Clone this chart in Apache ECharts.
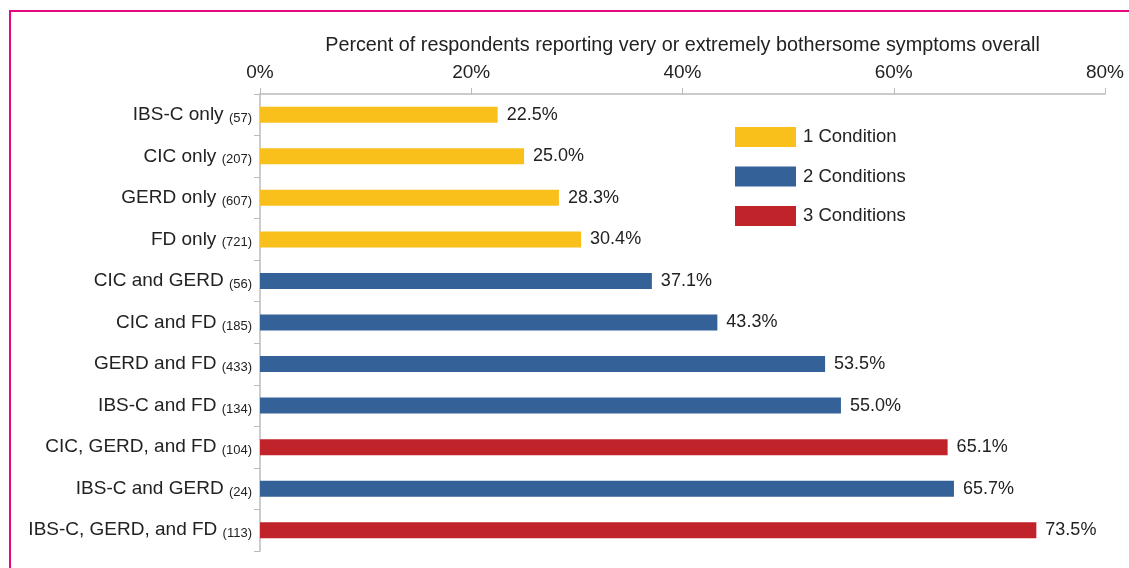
<!DOCTYPE html>
<html>
<head>
<meta charset="utf-8">
<script src="https://cdn.jsdelivr.net/npm/echarts@6/dist/echarts.min.js"></script>
<style>
html,body{margin:0;padding:0;background:#fff;}
#frame{position:absolute;left:9px;top:10px;width:1200px;height:700px;border-top:2px solid #E4097D;border-left:2px solid #E4097D;}
#chart{position:absolute;left:0;top:0;width:1129px;height:568px;}
</style>
</head>
<body>
<div id="frame"></div>
<div id="chart"></div>
<script>
const categories = ['IBS-C only','CIC only','GERD only','FD only','CIC and GERD','CIC and FD','GERD and FD','IBS-C and FD','CIC, GERD, and FD','IBS-C and GERD','IBS-C, GERD, and FD'];
const counts = [57,207,607,721,56,185,433,134,104,24,113];
const values = [22.5,25.0,28.3,30.4,37.1,43.3,53.5,55.0,65.1,65.7,73.5];
const conditions = [1,1,1,1,2,2,2,2,3,2,3];
const seriesNames = ['1 Condition','2 Conditions','3 Conditions'];
const seriesColors = ['#F9BF1B','#346198','#C1232B'];
const tickValues = [0,20,40,60,80];

const font = 'Liberation Sans, Arial, sans-serif';
const chart = echarts.init(document.getElementById('chart'));
const series = seriesNames.map((name, i) => ({
  name: name,
  type: 'bar',
  stack: 'all',
  barWidth: 16,
  itemStyle: {color: seriesColors[i]},
  label: {
    show: true, position: 'right', distance: 9,
    fontFamily: font, fontSize: 18, color: '#222',
    formatter: p => p.value.toFixed(1) + '%'
  },
  data: values.map((v, k) => conditions[k] === i + 1 ? v : '-')
}));

chart.setOption({
  animation: false,
  textStyle: {fontFamily: font},
  grid: {left: 260, right: 24, top: 94, bottom: 17, containLabel: false},
  legend: {
    orient: 'vertical', left: 730, top: 122,
    itemWidth: 61, itemHeight: 20, itemGap: 19.5,
    icon: 'rect',
    textStyle: {fontFamily: font, fontSize: 18.5, lineHeight: 20, color: '#222', padding: [0,0,0,2]},
    data: seriesNames
  },
  xAxis: {
    type: 'value', position: 'top', min: 0, max: 80, interval: 20,
    name: 'Percent of respondents reporting very or extremely bothersome symptoms overall',
    nameLocation: 'middle', nameGap: 38,
    nameTextStyle: {fontFamily: font, fontSize: 19.8, color: '#222'},
    axisLine: {show: true, lineStyle: {color: '#bbb', width: 1.5}},
    axisTick: {show: true, length: 6, lineStyle: {color: '#bbb'}},
    splitLine: {show: false},
    axisLabel: {
      margin: 12, fontFamily: font, fontSize: 19, color: '#222',
      formatter: v => tickValues.includes(v) ? v + '%' : ''
    }
  },
  yAxis: {
    type: 'category', inverse: true, data: categories,
    axisLine: {show: true, lineStyle: {color: '#bbb', width: 1.5}},
    axisTick: {show: true, length: 6, lineStyle: {color: '#bbb'}},
    axisLabel: {
      margin: 8, fontFamily: font, color: '#222',
      formatter: (v, i) => v + ' {s|(' + counts[i] + ')}',
      rich: {s: {fontSize: 13, fontFamily: font, color: '#222', verticalAlign: 'bottom', padding: [7,0,0,0]}},
      fontSize: 19
    }
  },
  series: series
});
</script>
</body>
</html>
